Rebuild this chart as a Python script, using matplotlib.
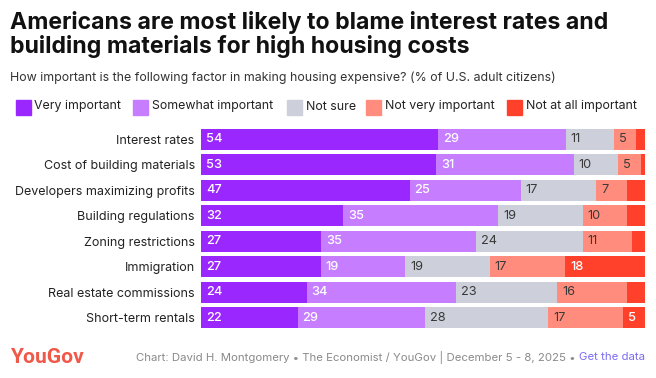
import matplotlib
matplotlib.use("Agg")
import matplotlib.pyplot as plt
import numpy as np

categories = ["Interest rates", "Cost of building materials", "Developers maximizing profits",
              "Building regulations", "Zoning restrictions", "Immigration",
              "Real estate commissions", "Short-term rentals"]
very_important = [54, 53, 47, 32, 27, 27, 24, 22]
somewhat_important = [29, 31, 25, 35, 35, 19, 34, 29]
not_sure = [11, 10, 17, 19, 24, 19, 23, 28]
not_very_important = [5, 5, 7, 10, 11, 17, 16, 17]
not_at_all_important = [2, 1, 4, 4, 3, 18, 4, 5]
series_names = ["Very important", "Somewhat important", "Not sure",
                "Not very important", "Not at all important"]

colors = ["#9B27FF", "#C77DFF", "#CDD0DA", "#FF8C7C", "#FF412C"]
label_colors = ["white", "white", "#3a3a3a", "#3a3a3a", "white"]

W, H = 656, 378
DPI = 100
fig = plt.figure(figsize=(W / DPI, H / DPI), dpi=DPI)
fig.patch.set_facecolor("white")
renderer = fig.canvas.get_renderer()

def px(v):
    return v * 72 / DPI

def fy(ypix):
    return 1 - ypix / H

FONT = "Inter"

# Title (two lines) fitted to reference width
title1 = "Americans are most likely to blame interest rates and"
title2 = "building materials for high housing costs"
t1 = fig.text(10 / W, fy(29), title1, ha="left", va="baseline",
              fontsize=px(22), fontweight="bold", family=FONT, color="#111111")
w = t1.get_window_extent(renderer).width
fs = px(22) * 598 / w
t1.set_fontsize(fs)
fig.text(10 / W, fy(53.3), title2, ha="left", va="baseline",
         fontsize=fs, fontweight="bold", family=FONT, color="#111111")

fig.text(10 / W, fy(78), "How important is the following factor in making housing expensive? (% of U.S. adult citizens)",
         ha="left", va="center", fontsize=px(12.4), family=FONT, color="#333333")

# Legend
legend_x = [16, 133, 287, 366, 507]
for i, name in enumerate(series_names):
    x0 = legend_x[i]
    fig.patches.append(plt.Rectangle((x0 / W, fy(115)), 15 / W, 15 / H,
                                     transform=fig.transFigure, color=colors[i], figure=fig))
    fig.text((x0 + 18.5) / W, fy(106.5), name, ha="left", va="center",
             fontsize=px(12.4), family=FONT, color="#222222")

# Axes for bars
pitch = 25.43
top_c, n = 139.5, len(categories)
ax_top = top_c - pitch / 2
ax_bot = top_c + (n - 1) * pitch + pitch / 2
left, right = 201, 645
ax = fig.add_axes([left / W, fy(ax_bot), (right - left) / W, (ax_bot - ax_top) / H])

data = np.array([very_important, somewhat_important, not_sure,
                 not_very_important, not_at_all_important], dtype=float)
totals = data.sum(axis=0)
shares = data / totals * 100
y = np.arange(n)
lefts = np.zeros(n)
for i in range(5):
    ax.barh(y, shares[i], left=lefts, height=0.83, color=colors[i], edgecolor="none")
    for j in range(n):
        if data[i, j] >= 5:
            ax.text(lefts[j] + 1.1, y[j], f"{int(data[i, j])}", ha="left", va="center",
                    fontsize=px(12.8), family=FONT, color=label_colors[i],
                    fontweight="medium" if label_colors[i] == "white" else "normal")
    lefts += shares[i]

ax.set_xlim(0, 100)
ax.set_ylim(n - 0.5, -0.5)
ax.set_yticks(y)
ax.set_yticklabels(categories, fontsize=px(12.5), family=FONT, color="#222222")
ax.tick_params(axis="y", length=0, pad=4.5)
ax.set_xticks([])
for s in ax.spines.values():
    s.set_visible(False)

# Footer
fig.text(10 / W, fy(357.5), "YouGov", ha="left", va="center", fontsize=px(21),
         fontweight="bold", family="Roboto", color="#F0584A")
gd = fig.text(645 / W, fy(357), "Get the data", ha="right", va="center",
              fontsize=px(11.4), family=FONT, color="#7B6CF0")
gx = gd.get_window_extent(renderer).x0
fig.text(gx / W, fy(357),
         "Chart: David H. Montgomery \u2022 The Economist / YouGov | December 5 - 8, 2025 \u2022 ",
         ha="right", va="center", fontsize=px(11.4), family=FONT, color="#8a8a8a")

fig.savefig("out.png", dpi=DPI)
